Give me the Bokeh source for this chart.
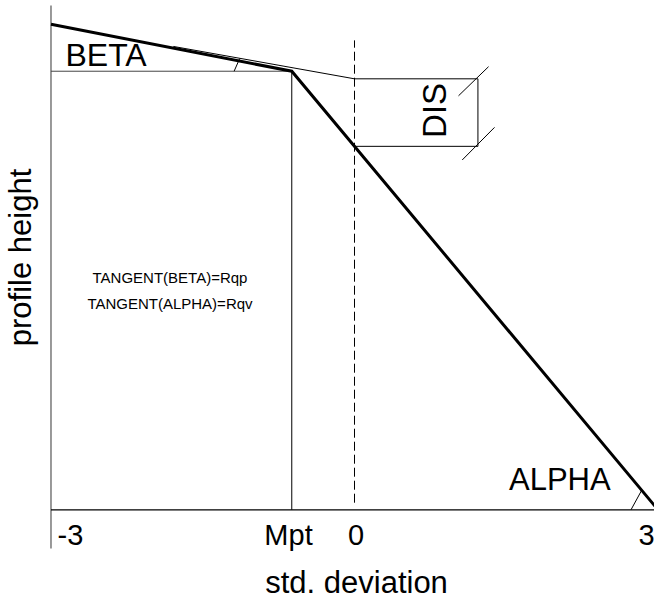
from bokeh.plotting import figure
from bokeh.models import Range1d
from bokeh.core.properties import value
from bokeh.embed import file_html
from bokeh.resources import INLINE
import numpy as np

# ---- data (std. deviation units on x, profile height units on y) ----
x_ticks = [-3.0, -0.62, 0.0, 3.0]
tick_labels = ["-3", "Mpt", "0", "3"]
tick_label_x = [-2.807, -0.652, 0.015, 2.886]

mpt = -0.62
curve_x = [-3.0, -0.62, 3.0]          # bearing profile (beta part, alpha part)
curve_y = [4.80, 4.335, 0.0]

tangent_x = [-1.79, 0.0]              # tangent to beta part
tangent_y = [4.58, 4.26]

dis_right = 1.22
dis_top = 4.26
dis_bottom = float(np.interp(0.0, curve_x[1:], curve_y[1:]))

beta_mark_x = [-1.19, -1.135]
beta_mark_y = [4.335, 4.46]
alpha_mark_x = [2.733, 2.837]
alpha_mark_y = [0.0, 0.19]

dis_tick1_x = [1.028, 1.325]
dis_tick1_y = [4.092, 4.38]
dis_tick2_x = [1.065, 1.384]
dis_tick2_y = [3.458, 3.78]

axis_top = 4.985
axis_bottom = -0.383
dash_top = 4.64
dash_bottom = 0.07

W, H = 654, 601
PX = 101.17
x_start = -354.0 / PX
y_top = 509.3 / PX

p = figure(width=W, height=H, output_backend="svg", toolbar_location=None,
           x_axis_type=None, y_axis_type=None, min_border=0,
           x_range=Range1d(x_start, x_start + W / PX),
           y_range=Range1d(y_top - H / PX, y_top))
p.outline_line_color = None
p.grid.visible = False
p.background_fill_color = "white"
p.border_fill_color = "white"

FONT = value("Liberation Sans")

# axes lines
p.line([x_ticks[0], x_ticks[0]], [axis_bottom, axis_top], line_color="#555555", line_width=1.2)
p.line([x_ticks[0], x_ticks[-1] + 0.2], [0, 0], line_color="black", line_width=1.2)

# helper lines
p.line([x_ticks[0], mpt], [curve_y[1], curve_y[1]], line_color="#444444", line_width=1)
p.line([mpt, mpt], [0, curve_y[1]], line_color="black", line_width=1)
p.line([0, 0], [dash_bottom, dash_top], line_color="black", line_width=1, line_dash="9 4")

# tangent
p.line(tangent_x, tangent_y, line_color="black", line_width=1)

# DIS box
p.line([0, dis_right], [dis_top, dis_top], line_color="black", line_width=1)
p.line([0, dis_right], [dis_bottom, dis_bottom], line_color="black", line_width=1)
p.line([dis_right, dis_right], [dis_bottom, dis_top], line_color="black", line_width=1)
p.line(dis_tick1_x, dis_tick1_y, line_color="black", line_width=1)
p.line(dis_tick2_x, dis_tick2_y, line_color="black", line_width=1)

# angle marks
p.line(beta_mark_x, beta_mark_y, line_color="black", line_width=1)
p.line(alpha_mark_x, alpha_mark_y, line_color="black", line_width=1)

# profile curve
p.line(curve_x, curve_y, line_color="black", line_width=3, line_join="miter")

# texts
p.text(x=tick_label_x, y=[-0.254] * 4, text=tick_labels, text_font=FONT,
       text_font_size="29px", text_align="center", text_baseline="middle",
       text_color="black")
p.text(x=[0.02], y=[-0.72], text=["std. deviation"], text_font=FONT,
       text_font_size="31px", text_align="center", text_baseline="middle",
       text_color="black")
p.text(x=[-3.30], y=[2.494], text=["profile height"], text_font=FONT,
       text_font_size="31px", text_align="center", text_baseline="middle",
       angle=np.pi / 2, text_color="black")
p.text(x=[-2.857], y=[4.495], text=["BETA"], text_font=FONT,
       text_font_size="32px", text_align="left", text_baseline="middle",
       text_color="black")
p.text(x=[1.527], y=[0.304], text=["ALPHA"], text_font=FONT,
       text_font_size="31px", text_align="left", text_baseline="middle",
       text_color="black")
p.text(x=[0.786], y=[3.948], text=["DIS"], text_font=FONT,
       text_font_size="33px", text_align="center", text_baseline="middle",
       angle=np.pi / 2, text_color="black")
p.text(x=[-1.824, -1.824], y=[2.296, 2.039],
       text=["TANGENT(BETA)=Rqp", "TANGENT(ALPHA)=Rqv"], text_font=FONT,
       text_font_size="15px", text_align="center", text_baseline="middle",
       text_color="black")

open("out.html", "w").write(file_html(p, INLINE))
